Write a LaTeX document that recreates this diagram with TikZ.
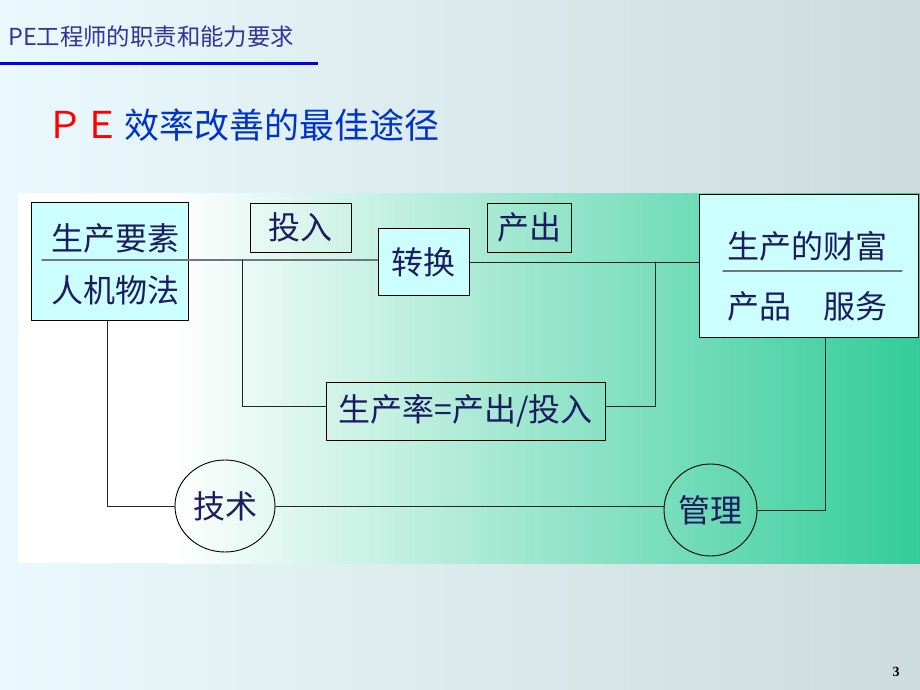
\documentclass[tikz,border=0pt]{standalone}
\usepackage{fontspec}
\newfontfamily\cjk{Noto Sans CJK SC}
\newfontfamily\numfont{Liberation Serif}
\usetikzlibrary{shapes.geometric}

\definecolor{bgleft}{RGB}{234,249,253}
\definecolor{bgright}{RGB}{204,220,220}
\definecolor{titleblue}{RGB}{51,51,153}
\definecolor{headblue}{RGB}{0,51,204}
\definecolor{ruleblue}{RGB}{0,0,230}
\definecolor{panelteal}{RGB}{51,204,153}
\definecolor{boxfill}{RGB}{204,255,255}
\definecolor{inkblue}{RGB}{28,28,96}
\definecolor{rulegrey}{RGB}{110,120,120}

\tikzset{
  label/.style={inner sep=0pt, text=inkblue, font=\cjk\fontsize{32}{36}\selectfont},
  box/.style={label, draw=black, line width=0.9pt},
  circ/.style={label, ellipse, draw=black, line width=0.9pt},
  wire/.style={draw=black!85, line width=0.9pt},
  divider/.style={draw=rulegrey, line width=1.1pt}
}

\begin{document}
\begin{tikzpicture}[x=1pt, y=-1pt, line cap=round, line join=round]

% Page and panel
\useasboundingbox (0,0) rectangle (920,690);
\shade[left color=bgleft, right color=bgright] (0,0) rectangle (920,690);
\fill[white] (18,193) rectangle (172,563);
\shade[left color=white, right color=panelteal] (170,193) rectangle (920,563);

% Titles
\node[anchor=west, inner sep=0pt, text=titleblue, font=\cjk\fontsize{23.4}{26}\selectfont]
  (title) at (8,37) {PE工程师的职责和能力要求};
\draw[ruleblue, line width=3pt, line cap=butt] (0,64) -- (318,64);
\node[anchor=west, inner sep=0pt, text=red, font=\cjk\fontsize{37}{40}\selectfont]
  (pe) at (46,125) {ＰＥ};
\node[anchor=west, inner sep=0pt, text=headblue, font=\cjk\fontsize{35}{38}\selectfont]
  (heading) at (124,125) {效率改善的最佳途径};

% Boxes
\node[box, fill=boxfill, minimum width=157, minimum height=118] (factors) at (109.5,261) {};
\node[box, minimum width=101, minimum height=49] (input) at (300.5,227.5) {投入};
\node[box, fill=boxfill, minimum width=91, minimum height=67] (convert) at (423.5,262) {转换};
\node[box, minimum width=84, minimum height=49] (output) at (529,227.5) {产出};
\node[box, fill=boxfill, minimum width=219, minimum height=143] (wealth) at (808.5,265.5) {};
\node[box, minimum width=279, minimum height=58] (ratio) at (465.5,411) {生产率=产出/投入};

% Circles
\node[circ, minimum width=100, minimum height=92] (tech) at (225,506) {技术};
\node[circ, minimum width=93, minimum height=92] (mgmt) at (710.5,510) {管理};

% Box texts
\node[label] (factop) at (115,238) {生产要素};
\node[label] (facbot) at (115,290) {人机物法};
\node[label] (wtop) at (807,246) {生产的财富};
\node[label] (wbot) at (807,306) {产品　服务};
\draw[divider] (723,271) -- (902,271);

% Connectors
\coordinate (inrule) at (42,260);
\coordinate (split) at (242,260);
\coordinate (join) at (655,262);
\draw[divider] (inrule) -- (inrule -| convert.west);
\draw[wire] (split) |- ([yshift=5pt]ratio.west);
\draw[wire] (convert.east) -- (convert.east -| wealth.west);
\draw[wire] (join) |- ([yshift=5pt]ratio.east);
\draw[wire] ([xshift=-2pt]factors.south) |- (tech.west);
\draw[wire] (tech.east) -- (tech.east -| mgmt.west);
\draw[wire] (mgmt.east) -| ([xshift=17pt]wealth.south);

% Page number
\node[inner sep=0pt, font=\numfont\bfseries\fontsize{14}{16}\selectfont] (pnum) at (896,672) {3};

\end{tikzpicture}
\end{document}
